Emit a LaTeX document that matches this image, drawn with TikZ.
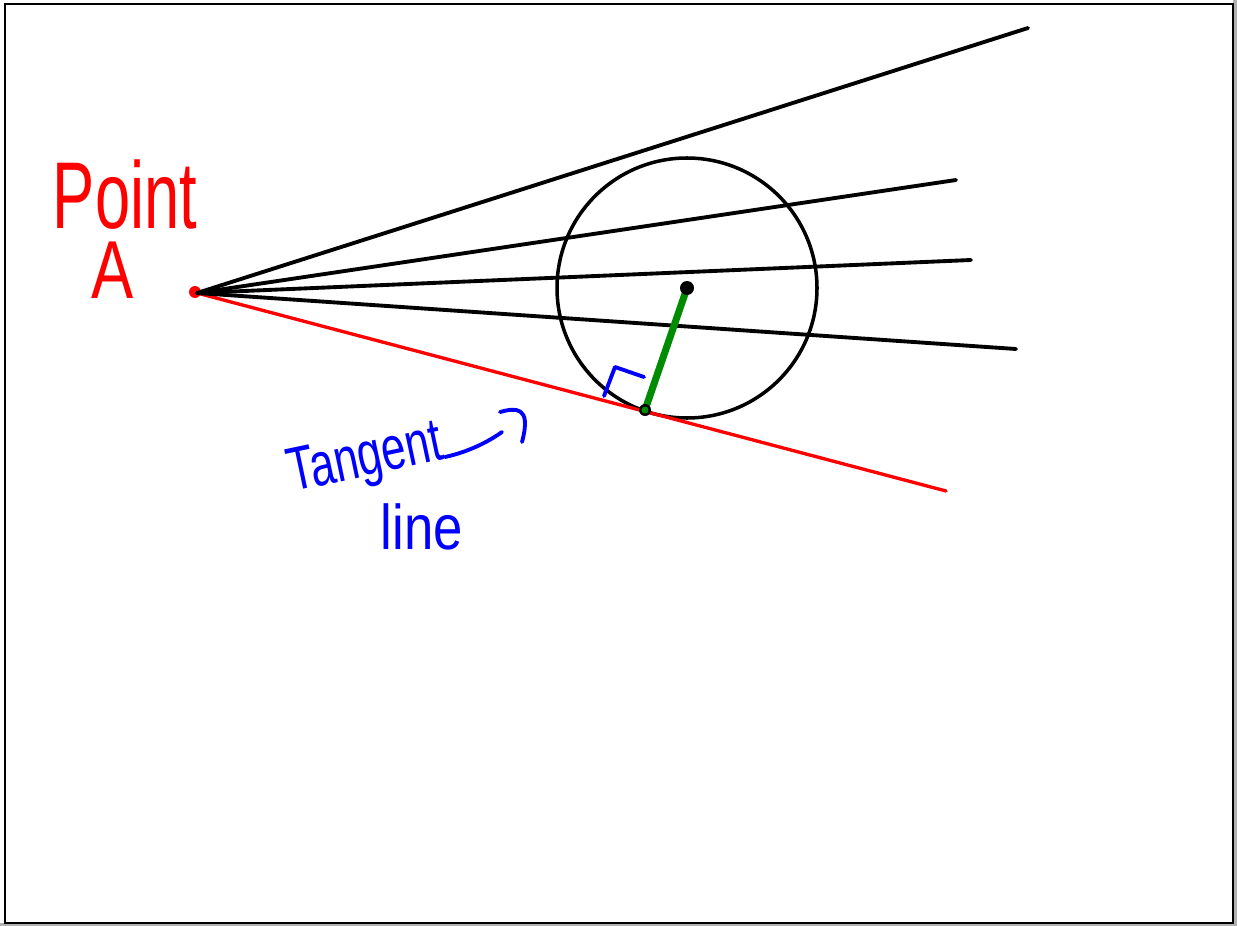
\documentclass[tikz,border=0pt]{standalone}
\usepackage{fontspec}
\setmainfont{Liberation Sans}
\tikzset{
  ray/.style={black, line width=2.2pt, line cap=round},
  tanline/.style={red, line width=1.9pt, line cap=round},
  hand/.style={blue, line width=2.2pt, line cap=round, line join=round},
  redlbl/.style={text=red, inner sep=0pt},
  bluelbl/.style={text=blue, inner sep=0pt}
}
\begin{document}
\begin{tikzpicture}[x=0.02cm, y=-0.02cm]
  % Rahmen
  \useasboundingbox (0,0) rectangle (1237,926);
  \fill[gray!60] (1233,0) rectangle (1237,926);
  \fill[gray!60] (0,923) rectangle (1237,926);
  \draw[black, line width=1.6pt] (5,4) rectangle (1233,923);

  % Punkte
  \coordinate (A) at (197,293);
  \coordinate (O) at (687,288);
  \coordinate (T) at (645,410);
  \coordinate (e1) at (1028,28);
  \coordinate (e2) at (956,180);
  \coordinate (e3) at (971,260);
  \coordinate (e4) at (1016,349);
  \coordinate (r) at (946,491);

  % Kreis
  \node[draw, circle, line width=2pt, minimum size=260*0.02cm, inner sep=0pt] (circ) at (O) {};

  % Strahlen von A
  \fill[red] (195,292) circle (6);
  \draw[tanline] (A) -- (r);
  \foreach \e in {e1,e2,e3,e4}
    \draw[ray] (A) -- (\e);

  % Radius zum Berührpunkt
  \draw[green!55!black, line width=4pt, line cap=round] (O) -- (T);
  \fill[black] (O) circle (7);
  \fill[black] (T) circle (6);
  \fill[green!55!black] (T) circle (3.5);

  % rechter Winkel
  \coordinate (w1) at (604,396);
  \coordinate (w2) at (615,367);
  \coordinate (w3) at (644,377);
  \draw[hand] (w1) -- (w2) -- (w3);

  % Beschriftungen
  \node[redlbl, font=\fontsize{36}{40}\selectfont, yscale=1.5] (ptxt) at (125,195) {Point};
  \node[redlbl, font=\fontsize{36}{40}\selectfont, yscale=1.3] (atxt) at (113,270) {A};
  \node[bluelbl, font=\fontsize{25}{28}\selectfont, rotate=12, yscale=1.4] (tan) at (366,461) {Tangent};
  \node[bluelbl, font=\fontsize{30}{32}\selectfont, yscale=1.2] (ln) at (422,527) {line};

  % Pfeil zur Tangente
  \coordinate (p1) at (445,457);
  \coordinate (p2) at (502,432);
  \coordinate (h1) at (500,412);
  \coordinate (h2) at (522,442);
  \draw[hand] (p1) .. controls (468,452) and (488,442) .. (p2);
  \draw[hand] (h1) .. controls (515,408) and (532,405) .. (h2);
\end{tikzpicture}
\end{document}
